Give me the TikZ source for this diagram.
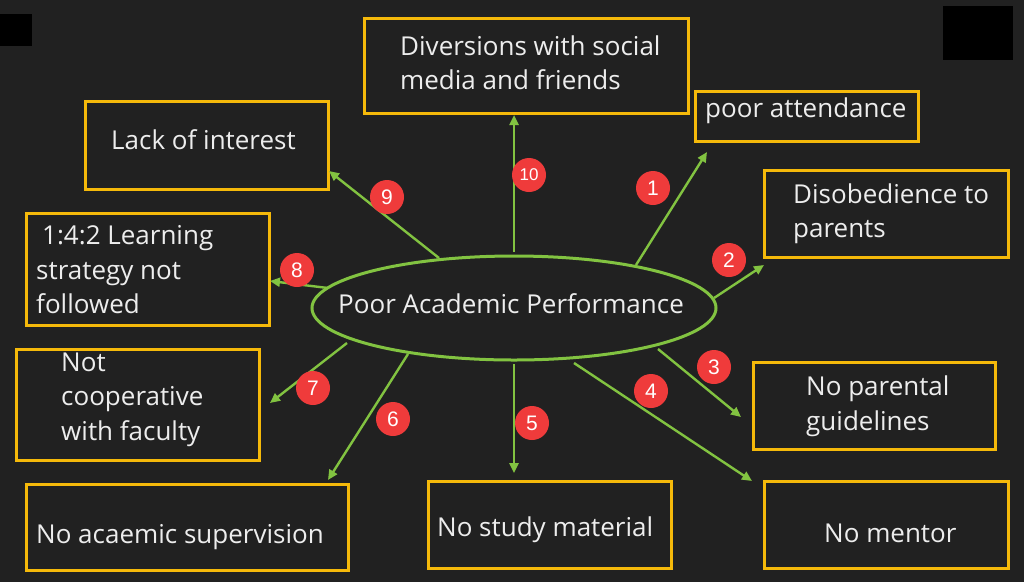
\documentclass[tikz,border=0pt]{standalone}
\usepackage{fontspec}
\setmainfont{Open Sans}
\newfontfamily\numfont{Liberation Sans}
\usetikzlibrary{arrows.meta,shapes.geometric}
\definecolor{bg}{HTML}{212121}
\definecolor{boxc}{HTML}{F5B90A}
\definecolor{grn}{HTML}{82C341}
\definecolor{badgec}{HTML}{EF3B3B}
\definecolor{txt}{HTML}{EDEDED}
\tikzset{
  causebox/.style={draw=boxc,line width=3pt,rectangle,inner sep=0pt},
  causetext/.style={text=txt,anchor=west,align=left,inner sep=0pt,font=\fontsize{26}{34.5}\selectfont},
  arr/.style={draw=grn,line width=2.4pt,-{Triangle[length=10pt,width=9pt]}},
  badge/.style={circle,fill=badgec,minimum size=34pt,inner sep=0pt,text=white,font=\numfont\fontsize{21}{21}\selectfont},
  blackbox/.style={fill=black,draw=none,rectangle,inner sep=0pt}
}
\begin{document}
\begin{tikzpicture}[x=1pt,y=-1pt]
\useasboundingbox[fill=bg] (0,0) rectangle (1024,582);
% black squares
\node[blackbox,minimum width=32pt,minimum height=32pt] (sqL) at (16,30) {};
\node[blackbox,minimum width=70pt,minimum height=54pt] (sqR) at (978,33) {};
% central ellipse
\node[ellipse,draw=grn,line width=3pt,minimum width=404pt,minimum height=104pt,inner sep=0pt] (center) at (514,308) {};
\node[causetext] (ctext) at (338,304) {Poor Academic Performance};
% boxes
\node[causebox,minimum width=324pt,minimum height=95pt] (b10) at (526,65.5) {};
\node[causebox,minimum width=223pt,minimum height=50pt] (b1) at (806.5,116) {};
\node[causebox,minimum width=244pt,minimum height=87pt] (b2) at (886,213.5) {};
\node[causebox,minimum width=243pt,minimum height=88pt] (b9) at (206.5,145) {};
\node[causebox,minimum width=243pt,minimum height=112pt] (b8) at (147.5,269) {};
\node[causebox,minimum width=243pt,minimum height=111pt] (b7) at (137.5,404.5) {};
\node[causebox,minimum width=322pt,minimum height=86pt] (b6) at (187,527) {};
\node[causebox,minimum width=243pt,minimum height=87pt] (b5) at (549.5,524.5) {};
\node[causebox,minimum width=242pt,minimum height=87pt] (b3) at (874.5,406) {};
\node[causebox,minimum width=244pt,minimum height=87pt] (b4) at (886,524.5) {};
% texts
\node[causetext] (t10) at (400,62.5) {Diversions with social\\media and friends};
\node[causetext] (t1) at (705,111) {poor attendance};
\node[causetext] (t2) at (793,213.5) {Disobedience to\\parents};
\node[causetext] (t9) at (111,140) {Lack of interest};
\node[causetext] (t8) at (36,270) {\hspace{6pt}1:4:2 Learning\\strategy not\\followed};
\node[causetext] (t7) at (61,399.5) {Not\\cooperative\\with faculty};
\node[causetext] (t6) at (36,537) {No acaemic supervision};
\node[causetext] (t5) at (437,530) {No study material};
\node[causetext] (t3) at (806,406) {No parental\\guidelines};
\node[causetext] (t4) at (824,533) {No mentor};
% arrow end points
\coordinate (s10) at (514,252); \coordinate (e10) at (514,115);
\coordinate (s9) at (439,258);  \coordinate (e9) at (329,171);
\coordinate (s1) at (636,265);  \coordinate (e1) at (707,152);
\coordinate (s2) at (714,298);  \coordinate (e2) at (764,265);
\coordinate (s3) at (658,349);  \coordinate (e3) at (741,417);
\coordinate (s4) at (574,363);  \coordinate (e4) at (752,481);
\coordinate (s5) at (514,364);  \coordinate (e5) at (514,473);
\coordinate (s6) at (408,354);  \coordinate (e6) at (328,480);
\coordinate (s7) at (347,343);  \coordinate (e7) at (270,403);
\coordinate (s8) at (328,288);  \coordinate (e8) at (270,281);
\foreach \i in {1,...,10} {\draw[arr] (s\i) -- (e\i);}
% badges
\node[badge] (n1) at (653,188) {1};
\node[badge] (n2) at (729,260) {2};
\node[badge] (n3) at (714,367) {3};
\node[badge] (n4) at (651,391) {4};
\node[badge] (n5) at (532,423) {5};
\node[badge] (n6) at (393,419) {6};
\node[badge] (n7) at (313,388) {7};
\node[badge] (n8) at (297,270) {8};
\node[badge] (n9) at (387,197) {9};
\node[badge,font=\numfont\fontsize{17}{17}\selectfont] (n10) at (529,175) {10};
\end{tikzpicture}
\end{document}
